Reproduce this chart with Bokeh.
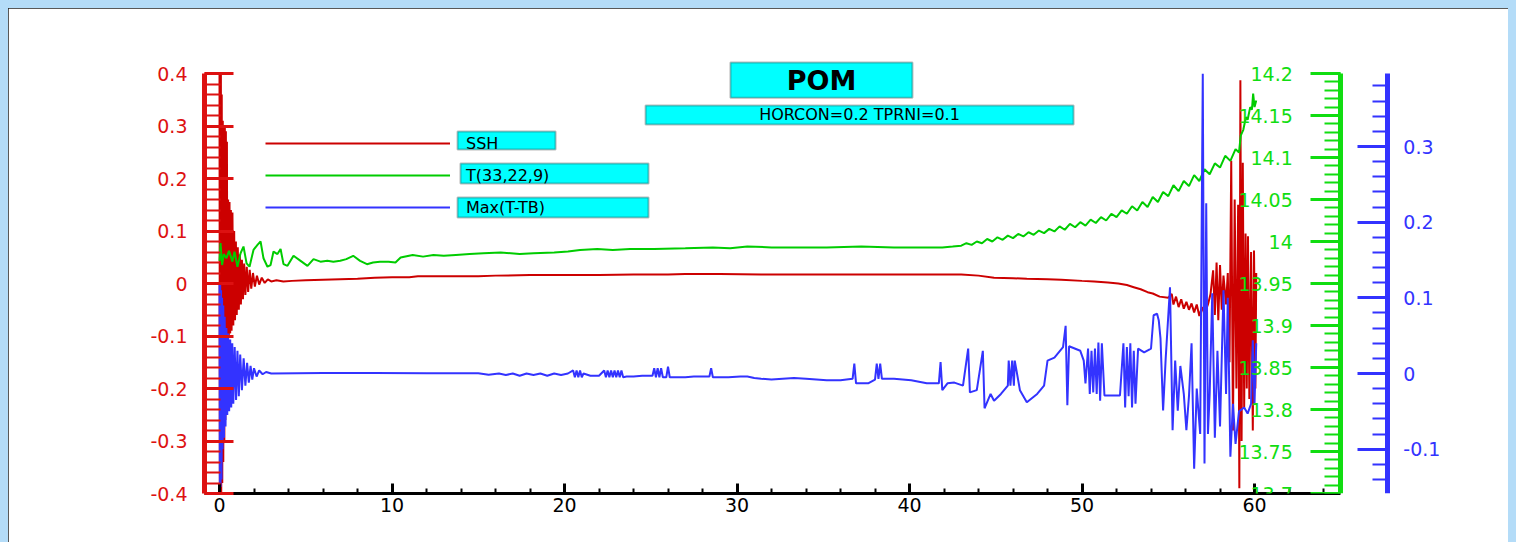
import numpy as np
from bokeh.plotting import figure
from bokeh.models import (Range1d, LinearAxis, FixedTicker, CustomJSTickFormatter,
                          BoxAnnotation, Label, Legend, LegendItem)
from bokeh.embed import file_html
from bokeh.resources import INLINE

# ---------------- data ----------------
ssh_t = [0.00, 0.02, 0.04, 0.06, 0.08, 0.10, 0.13, 0.16, 0.19, 0.22, 0.25, 0.28, 0.31, 0.34,
         0.37, 0.40, 0.43, 0.46, 0.50, 0.54, 0.58, 0.62, 0.66, 0.70, 0.75, 0.80, 0.85, 0.90,
         0.95, 1.00, 1.06, 1.12, 1.18, 1.24, 1.30, 1.36, 1.43, 1.50, 1.58, 1.66, 1.75, 1.84,
         1.94, 2.05, 2.17, 2.30, 2.45, 2.62, 2.80, 3.00, 3.30, 3.70, 4.20,
         5, 6, 7, 8, 9, 10, 11, 11.5, 13, 15, 16, 18, 20, 22, 24, 26, 27, 29, 31.4, 33, 35, 37,
         39, 41, 43, 44, 44.9, 46, 46.8, 48, 48.8, 50, 50.7, 51.5, 52.1, 52.6, 53, 53.4, 53.8,
         54.1, 54.5, 55.0,
         55.2, 55.3, 55.45, 55.6, 55.75, 55.9, 56.05, 56.2, 56.35, 56.5, 56.65, 56.8, 56.95,
         57.1, 57.3, 57.45, 57.6, 57.7, 57.8, 57.9, 58.0, 58.1, 58.2, 58.35, 58.45, 58.55,
         58.65, 58.75, 58.85, 58.95, 59.05, 59.12, 59.18, 59.25, 59.32, 59.4, 59.48, 59.55,
         59.62, 59.7, 59.8, 59.9, 59.97, 60.05, 60.1]
ssh = [0.40, -0.40, 0.40, -0.40, 0.40, -0.40, 0.36, -0.38, 0.31, -0.34, 0.30, -0.30, 0.30, -0.26,
       0.29, -0.20, 0.27, -0.14, 0.16, -0.10, 0.155, -0.095, 0.14, -0.09, 0.135, -0.08, 0.10, -0.07,
       0.08, -0.06, 0.069, -0.05, 0.055, -0.04, 0.045, -0.03, 0.038, -0.022, 0.032, -0.016, 0.026, -0.01,
       0.02, -0.006, 0.015, -0.002, 0.011, 0.001, 0.008, 0.004, 0.006, 0.004, 0.005,
       0.006, 0.007, 0.008, 0.009, 0.011, 0.012, 0.012, 0.014, 0.014, 0.014, 0.015, 0.016, 0.016,
       0.016, 0.017, 0.017, 0.018, 0.018, 0.017, 0.017, 0.017, 0.017,
       0.017, 0.017, 0.017, 0.015, 0.011, 0.010, 0.009, 0.008, 0.007, 0.005, 0.004, 0.002, 0.0,
       -0.003, -0.007, -0.011, -0.0165, -0.019, -0.025, -0.027,
       -0.02, -0.04, -0.025, -0.045, -0.03, -0.048, -0.035, -0.05, -0.038, -0.055, -0.04, -0.062,
       -0.045, -0.058, -0.04, -0.02, 0.025, -0.06, 0.04, -0.07, 0.035, -0.05, 0.015, -0.04, 0.02,
       -0.15, 0.234, -0.28, 0.16, -0.2, 0.15, -0.39, 0.387, -0.3, 0.23, -0.236, 0.095, -0.2,
       0.09, -0.22, 0.06, -0.28, 0.063, -0.2, 0.02]

temp_t = [0.00, 0.06, 0.15, 0.25, 0.40, 0.55, 0.75, 0.87, 1.04, 1.22, 1.39, 1.57, 1.74, 1.97,
          2.20, 2.38, 2.55, 2.78, 2.96, 3.13, 3.36, 3.54, 3.71, 3.94, 4.29, 4.70, 5.10, 5.45,
          5.85, 6.25, 6.60, 7.00, 7.35, 7.75, 8.15, 8.55, 8.90, 9.30, 9.80, 10.2, 10.5, 11.2,
          11.8, 12.4, 13.0, 13.7, 14.5, 15.3, 16.3, 17.4, 18.2, 19.4, 20.2, 20.9, 21.9, 22.8,
          23.8, 25.2, 27.0, 28.6, 29.6, 30.6, 32.0, 33.3, 35.2, 37.2, 39.1, 41.0, 41.9, 42.5,
          43.0, 43.3, 43.6, 43.9, 44.2, 44.5, 44.8, 45.1, 45.4, 45.7, 46.0, 46.3, 46.6, 46.9,
          47.2, 47.5, 47.8, 48.1, 48.4, 48.7, 49.0, 49.3, 49.6, 49.9, 50.2, 50.5, 50.8, 51.1,
          51.4, 51.7, 52.0, 52.3, 52.6, 52.9, 53.2, 53.5, 53.8, 54.1, 54.4, 54.7, 55.0, 55.3,
          55.6, 55.9, 56.2, 56.5, 56.8, 57.1, 57.4, 57.7, 58.0, 58.3, 58.6, 58.9, 59.1, 59.2,
          59.35, 59.5, 59.6, 59.75, 59.85, 59.92, 60.0, 60.1]
temp = [13.977, 13.998, 13.972, 13.985, 13.980, 13.989, 13.976, 13.988, 13.970, 13.986, 13.994,
        13.974, 13.970, 13.990, 13.996, 14.000, 13.980, 13.970, 13.972, 13.988, 13.985, 13.991,
        13.973, 13.971, 13.983, 13.977, 13.971, 13.979, 13.976, 13.977, 13.976, 13.977, 13.979,
        13.983, 13.977, 13.973, 13.975, 13.976, 13.976, 13.975, 13.981, 13.984, 13.982, 13.984,
        13.983, 13.984, 13.985, 13.986, 13.987, 13.985, 13.986, 13.987, 13.988, 13.990, 13.991,
        13.990, 13.991, 13.991, 13.992, 13.993, 13.992, 13.994, 13.993, 13.993, 13.993, 13.994,
        13.993, 13.993, 13.993, 13.994,
        13.995, 13.998, 13.996, 14.000, 13.998, 14.003, 14.000, 14.005, 14.002, 14.007, 14.004,
        14.009, 14.006, 14.011, 14.008, 14.013, 14.010, 14.015, 14.012, 14.018, 14.014, 14.021,
        14.017, 14.023, 14.019, 14.026, 14.022, 14.029, 14.025, 14.033, 14.029, 14.037, 14.033,
        14.042, 14.037, 14.047, 14.041, 14.053, 14.047, 14.059, 14.054, 14.067, 14.060, 14.072,
        14.066, 14.079, 14.072, 14.086, 14.080, 14.093, 14.088, 14.102, 14.096, 14.110, 14.106,
        14.126, 14.133, 14.148, 14.145, 14.160, 14.157, 14.176, 14.160, 14.168]

dt_t = [0.00, 0.02, 0.04, 0.06, 0.09, 0.12, 0.15, 0.18, 0.22, 0.26, 0.30, 0.35, 0.40, 0.45,
        0.50, 0.56, 0.62, 0.68, 0.74, 0.80, 0.88, 0.96, 1.04, 1.12, 1.20, 1.30, 1.40, 1.50,
        1.60, 1.70, 1.80, 1.90, 2.00, 2.15, 2.30, 2.50, 2.70, 3.0,
        6.0, 9.0, 12.0, 15.0, 15.6, 16.2, 16.6, 17.0, 17.4, 17.8, 18.2, 18.6, 19.0, 19.4, 19.8,
        20.2, 20.5, 20.6, 20.7, 20.8, 20.9, 21.0, 21.1, 21.5, 22.0, 22.3, 22.4, 22.5, 22.6,
        22.7, 22.8, 22.9, 23.0, 23.1, 23.2, 23.3, 23.4, 23.6, 24.0, 24.5, 25.1, 25.2, 25.3,
        25.4, 25.5, 25.6, 25.7, 25.9, 26.0, 26.1, 27.0, 27.5, 28.0, 28.4, 28.5, 28.6, 29.5,
        30.2, 30.6, 31.0, 31.4, 32.0, 33.3, 34.0, 35.2, 36.0, 36.7, 36.8, 36.9, 37.6, 38.0,
        38.1, 38.2, 38.3, 38.4, 39.1, 40.1, 41.0, 41.7, 41.8, 41.9, 42.2, 42.6, 43.1, 43.4,
        43.5, 43.9, 44.25, 44.35, 44.7, 44.9, 45.3, 45.7, 45.75, 45.85, 45.95, 46.05, 46.1,
        46.4, 46.8, 47.4, 47.8, 48.0, 48.4, 48.9, 49.05, 49.15, 49.25, 49.9, 50.1, 50.2, 50.35,
        50.45, 50.55, 50.65, 50.75, 50.85, 50.95, 51.05, 51.15, 51.3, 51.8, 52.2, 52.4, 52.5,
        52.6, 52.7, 52.8, 52.9, 53.0, 53.1, 53.25, 53.6, 54.0, 54.15, 54.35, 54.45, 54.55,
        54.7, 54.85, 55.1, 55.25, 55.4, 55.55, 55.7, 55.9, 56.05, 56.2, 56.35, 56.5, 56.65,
        56.85, 57.0, 57.1, 57.2, 57.3, 57.4, 57.55, 57.7, 57.85, 58.0, 58.2, 58.35, 58.45,
        58.6, 58.75, 58.9, 59.1, 59.4, 59.6, 59.8, 59.9, 60.0, 60.1]
dtmax = [0.12, -0.15, 0.12, -0.15, 0.11, -0.14, 0.10, -0.10, 0.09, -0.085, 0.075, -0.07, 0.06,
         -0.055, 0.053, -0.05, 0.045, -0.045, 0.04, -0.04, 0.035, -0.035, 0.03, -0.03, 0.025,
         -0.022, 0.02, -0.016, 0.014, -0.012, 0.01, -0.008, 0.007, -0.004, 0.004, -0.001, 0.002, 0.0,
         0.0005, 0.0005, 0.0004, 0.0004, -0.0015, 0.0, -0.002, 0.0, -0.003, 0.0, -0.002, 0.0,
         -0.003, 0.0, -0.002, 0.0, 0.004, -0.005, 0.004, -0.005, 0.004, -0.005, 0.0, -0.003,
         -0.003, 0.004, -0.005, 0.004, -0.005, 0.004, -0.005, 0.004, -0.005, 0.004, -0.005,
         0.004, -0.005, -0.004, -0.004, -0.003, -0.003, 0.007, -0.005, 0.007, -0.005, 0.007,
         -0.005, -0.005, 0.009, -0.005, -0.005, -0.004, -0.004, -0.004, 0.007, -0.005, -0.005,
         -0.004, -0.004, -0.006, -0.007, -0.008, -0.006, -0.007, -0.009, -0.009, -0.007, 0.013,
         -0.013, -0.013, -0.008, 0.013, -0.007, 0.013, -0.007, -0.007, -0.009, -0.013, -0.013,
         0.015, -0.022, -0.013, -0.012, -0.016, 0.033, -0.025, -0.022, 0.03, -0.046, -0.027,
         -0.036, -0.027, -0.016, 0.017, -0.016, 0.017, -0.016, 0.017, -0.022, -0.038, -0.027,
         -0.016, 0.017, 0.021, 0.035, 0.063, -0.042, 0.036, 0.03, 0.017, -0.013, 0.033, -0.027,
         0.03, -0.025, 0.033, -0.027, 0.041, -0.036, 0.04, -0.029, -0.029, -0.029, 0.04, -0.045,
         0.035, -0.03, 0.04, -0.045, 0.03, -0.04, 0.033, 0.028, 0.033, 0.077, 0.079, 0.07, 0.046,
         -0.049, 0.02, 0.114, -0.075, 0.017, -0.049, 0.01, -0.027, -0.075, -0.03, 0.04, -0.126,
         -0.02, -0.08, 0.396, -0.119, 0.225, -0.08, -0.027, 0.106, -0.085, 0.03, -0.07, 0.11,
         -0.027, 0.1, -0.11, -0.04, -0.093, -0.05, -0.045, -0.053, -0.04, 0.044, -0.04, 0.04]

series_names = ["SSH", "T(33,22,9)", "Max(T-TB)"]
title_text = "POM"
subtitle_text = "HORCON=0.2 TPRNI=0.1"

x_ticks = [0, 10, 20, 30, 40, 50, 60]
x_minor = [v for v in range(2, 66, 2) if v % 10]
ssh_ticks = [-0.4, -0.3, -0.2, -0.1, 0, 0.1, 0.2, 0.3, 0.4]
ssh_minor = [round(-0.4 + 0.02 * i, 2) for i in range(41)]
temp_ticks = [13.7, 13.75, 13.8, 13.85, 13.9, 13.95, 14.0, 14.05, 14.1, 14.15, 14.2]
temp_minor = [round(13.7 + 0.01 * i, 2) for i in range(51)]
dt_ticks = [-0.1, 0, 0.1, 0.2, 0.3]
dt_minor = [round(-0.14 + 0.02 * i, 2) for i in range(27)]

ssh_lim = (-0.4, 0.4)
temp_lim = (13.7, 14.2)
dt_lim = (-0.1586, 0.3965)

RED_D, RED_A = "#CC0000", "#DD1111"
GREEN_D, GREEN_A = "#00CC00", "#11DD11"
BLUE = "#3333FF"
FONT = "DejaVu Sans"

# frame: 420 px of axis height, plus 18 px headroom above for the title box
HEAD = 18 / 420.0
def ext(lim):
    return Range1d(lim[0], lim[1] + (lim[1] - lim[0]) * HEAD)

p = figure(width=1500, height=534, x_range=Range1d(-0.87, 72.52), y_range=ext(ssh_lim),
           output_backend="svg", toolbar_location=None,
           min_border_left=196, min_border_right=38, min_border_top=47, min_border_bottom=49,
           background_fill_color="white", border_fill_color="white", outline_line_color=None)
p.extra_y_ranges = {"temp": ext(temp_lim), "dt": ext(dt_lim)}
p.grid.visible = False
p.styles = {"margin-left": "8px", "margin-top": "8px",
            "box-shadow": "-8px -8px 0 0 #B4DCF8, 8px -8px 0 0 #B4DCF8, -8px 0 0 0 #B4DCF8, 8px 0 0 0 #B4DCF8",
            "outline": "2px solid #222222", "outline-offset": "-2px"}

fmt = CustomJSTickFormatter(code="return String(Math.round(tick*1000)/1000)")

# x axis
xa = p.xaxis[0]
xa.ticker = FixedTicker(ticks=x_ticks, minor_ticks=x_minor)
xa.formatter = fmt
xa.bounds = (-0.87, 65)
xa.axis_line_color = "black"
xa.axis_line_width = 3
xa.major_tick_in, xa.major_tick_out = 10, 0
xa.minor_tick_in, xa.minor_tick_out = 5, 0
xa.major_tick_line_width = 3
xa.minor_tick_line_width = 2
xa.major_tick_line_color = "black"
xa.minor_tick_line_color = "black"
xa.major_label_text_font = FONT
xa.major_label_text_font_size = "19px"
xa.major_label_text_color = "black"
xa.major_label_standoff = 4

# red (left) axis
ya = p.yaxis[0]
ya.ticker = FixedTicker(ticks=ssh_ticks, minor_ticks=ssh_minor)
ya.formatter = fmt
ya.bounds = ssh_lim
ya.axis_line_color = RED_A
ya.axis_line_width = 5
ya.major_tick_in, ya.major_tick_out = 29, 0
ya.minor_tick_in, ya.minor_tick_out = 16, 0
ya.major_tick_line_color = RED_A
ya.minor_tick_line_color = RED_A
ya.major_tick_line_width = 3
ya.minor_tick_line_width = 2
ya.major_label_text_font = FONT
ya.major_label_text_font_size = "19px"
ya.major_label_text_color = RED_A
ya.major_label_standoff = 17

# green axis (inside, at x = 65)
ga = LinearAxis(y_range_name="temp", fixed_location=65, bounds=temp_lim,
                ticker=FixedTicker(ticks=temp_ticks, minor_ticks=temp_minor), formatter=fmt,
                axis_line_color=GREEN_A, axis_line_width=5,
                major_tick_in=0, major_tick_out=30, minor_tick_in=0, minor_tick_out=16,
                major_tick_line_color=GREEN_A, minor_tick_line_color=GREEN_A,
                major_tick_line_width=3, minor_tick_line_width=2,
                major_label_text_font=FONT, major_label_text_font_size="19px",
                major_label_text_color=GREEN_A, major_label_standoff=18)
p.add_layout(ga, "left")

# blue axis (at x = 67.7)
ba = LinearAxis(y_range_name="dt", fixed_location=67.7, bounds=dt_lim,
                ticker=FixedTicker(ticks=dt_ticks, minor_ticks=dt_minor), formatter=fmt,
                axis_line_color=BLUE, axis_line_width=5,
                major_tick_in=30, major_tick_out=0, minor_tick_in=15, minor_tick_out=0,
                major_tick_line_color=BLUE, minor_tick_line_color=BLUE,
                major_tick_line_width=3, minor_tick_line_width=2,
                major_label_text_font=FONT, major_label_text_font_size="19px",
                major_label_text_color=BLUE, major_label_standoff=16)
p.add_layout(ba, "right")

# data
r_ssh = p.line(ssh_t, ssh, line_color=RED_D, line_width=2)
r_temp = p.line(temp_t, temp, y_range_name="temp", line_color=GREEN_D, line_width=2)
r_dt = p.line(dt_t, dtmax, y_range_name="dt", line_color=BLUE, line_width=2)

# title boxes
box_kw = dict(fill_color="#00FFFF", fill_alpha=1.0, line_color="#1a1a1a", line_width=2)
p.add_layout(BoxAnnotation(left=29.62, right=40.17, bottom=0.354, top=0.421, **box_kw))
p.add_layout(BoxAnnotation(left=24.70, right=49.51, bottom=0.303, top=0.339, **box_kw))
p.add_layout(Label(x=34.9, y=0.3867, text=title_text, text_align="center", text_baseline="middle",
                   text_font=FONT, text_font_size="27px", text_font_style="bold", text_color="black"))
p.add_layout(Label(x=37.1, y=0.321, text=subtitle_text, text_align="center", text_baseline="middle",
                   text_font=FONT, text_font_size="16px", text_color="black"))

# legend boxes
p.add_layout(BoxAnnotation(left=13.80, right=19.48, bottom=0.2552, top=0.2895, **box_kw))
p.add_layout(BoxAnnotation(left=13.97, right=24.87, bottom=0.1905, top=0.2286, **box_kw))
p.add_layout(BoxAnnotation(left=13.80, right=24.87, bottom=0.1257, top=0.1638, **box_kw))

legend = Legend(items=[LegendItem(label=series_names[0], renderers=[r_ssh]),
                       LegendItem(label=series_names[1], renderers=[r_temp]),
                       LegendItem(label=series_names[2], renderers=[r_dt])],
                location=(61, 276), orientation="vertical",
                glyph_width=185, glyph_height=20, label_height=20, label_standoff=16,
                spacing=12, padding=0, margin=0,
                background_fill_alpha=0, border_line_color=None,
                label_text_font=FONT, label_text_font_size="16px", label_text_color="black")
p.add_layout(legend, "center")

open("out.html", "w").write(file_html(p, INLINE))
